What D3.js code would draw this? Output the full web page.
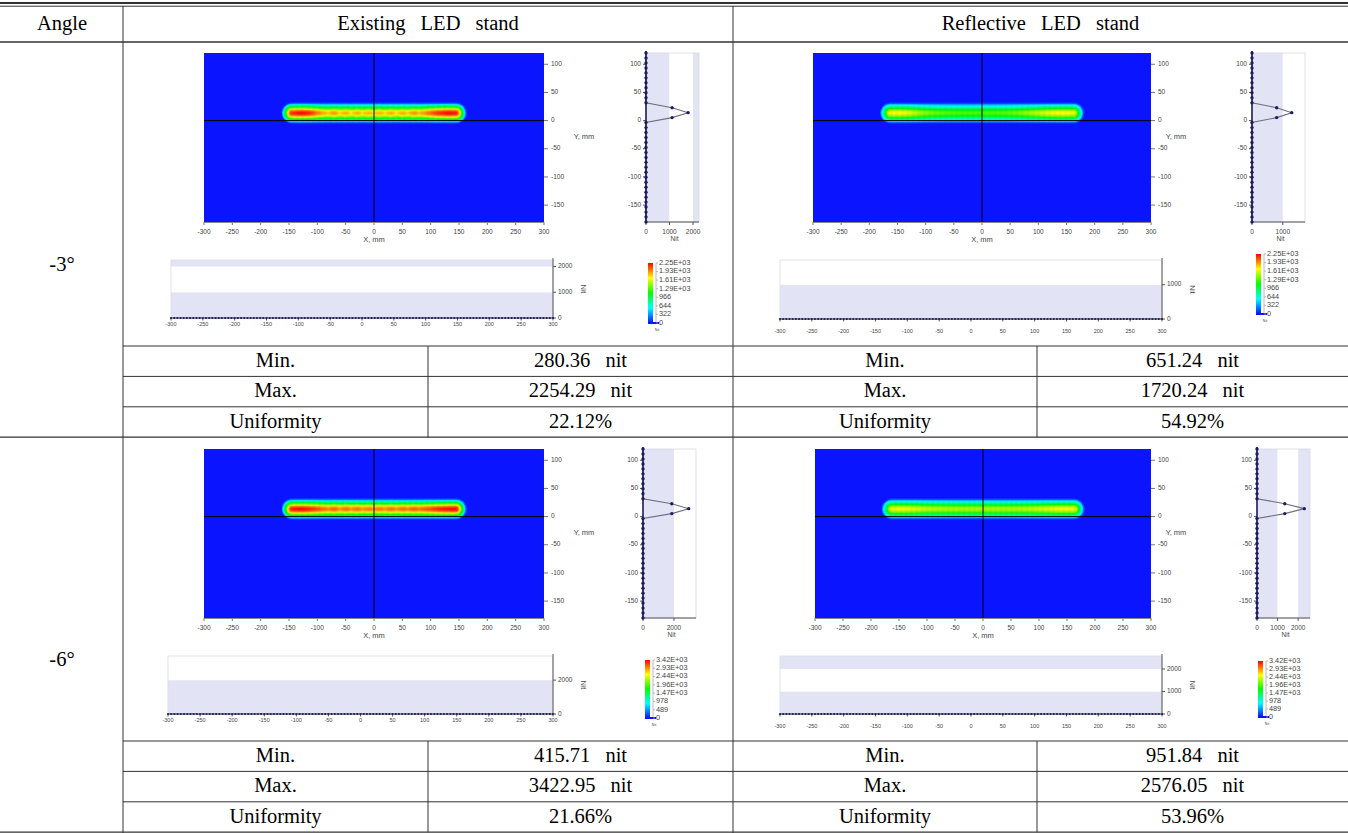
<!DOCTYPE html>
<html><head><meta charset="utf-8">
<script src="https://cdn.jsdelivr.net/npm/d3@7"></script>
<style>
body{margin:0;background:#fff;}
svg{display:block;}
.tt{font-family:"Liberation Serif","Times New Roman",serif;font-size:20.5px;fill:#000;word-spacing:10px;}
.sm{font-family:"Liberation Sans",Arial,sans-serif;fill:#444;}
</style></head><body>
<svg id="c" width="1348" height="833"></svg>
<script>
// ================= DATA =================
const angleLabels = ["-3°", "-6°"];
const standTypes = ["Existing LED stand", "Reflective LED stand"];
const statLabels = ["Min.", "Max.", "Uniformity"];
const statsExisting3 = ["280.36 nit", "2254.29 nit", "22.12%"];
const statsReflective3 = ["651.24 nit", "1720.24 nit", "54.92%"];
const statsExisting6 = ["415.71 nit", "3422.95 nit", "21.66%"];
const statsReflective6 = ["951.84 nit", "2576.05 nit", "53.96%"];

const heatXTicks = [-300, -250, -200, -150, -100, -50, 0, 50, 100, 150, 200, 250, 300];
const heatYTicks = [100, 50, 0, -50, -100, -150];
const colorbarTicks3 = ["0", "322", "644", "966", "1.29E+03", "1.61E+03", "1.93E+03", "2.25E+03"];
const colorbarTicks6 = ["0", "489", "978", "1.47E+03", "1.96E+03", "2.44E+03", "2.93E+03", "3.42E+03"];

// luminance along the strip centre line (nit), x in mm
const stripX = [-170,-160,-150,-140,-130,-120,-110,-100,-90,-80,-70,-60,-50,-40,-30,-20,-10,0,10,20,30,40,50,60,70,80,90,100,110,120,130,140,150,160,170];
const alongExisting3 = [2150,2150,2150,2200,2250,2230,2150,2000,1900,1820,1950,1780,1900,1760,1900,1780,1880,1790,1880,1780,1900,1760,1900,1800,1950,1850,1950,2050,2150,2200,2254,2230,2200,2200,2200];
const alongReflective3 = [1650,1700,1720,1700,1650,1580,1500,1440,1400,1360,1340,1320,1310,1300,1300,1300,1310,1290,1310,1310,1320,1330,1350,1380,1420,1470,1520,1570,1620,1670,1700,1720,1710,1680,1650];
const alongExisting6 = [3300,3300,3300,3380,3423,3380,3300,3200,3100,3000,3150,2950,3100,2950,3100,2950,3050,2950,3050,2950,3100,2950,3100,3000,3150,3050,3150,3200,3300,3350,3400,3423,3380,3300,3300];
const alongReflective6 = [2500,2540,2576,2560,2520,2470,2420,2380,2350,2330,2310,2300,2300,2290,2300,2300,2300,2300,2300,2300,2300,2300,2300,2310,2330,2350,2380,2420,2460,2500,2540,2570,2576,2560,2540];
// relative cross-section of the strip vs distance from its centre line (mm)
const crossD = [0, 3, 6, 9, 12, 15, 16.5, 18];
const crossRel = [1, 0.95, 0.82, 0.62, 0.45, 0.3, 0.15, 0];
const stripCentreY = 14;

// vertical profile at X = 0 (side plots)
const sideY = [-180,-171.2,-162.4,-153.5,-144.7,-135.9,-127.1,-118.2,-109.4,-100.6,-91.8,-82.9,-74.1,-65.3,-56.5,-47.6,-38.8,-30,-21.2,-12.4,-3.5,5.3,14.1,22.9,31.8,40.6,49.4,58.2,67.1,75.9,84.7,93.5,102.4,111.2,120];
const sideExisting3 =   [0,0,0,0,0,0,0,0,0,0,0,0,0,0,0,0,0,0,0,0,0,1110,1790,1110,0,0,0,0,0,0,0,0,0,0,0];
const sideReflective3 = [0,0,0,0,0,0,0,0,0,0,0,0,0,0,0,0,0,0,0,0,0,800,1290,800,0,0,0,0,0,0,0,0,0,0,0];
const sideExisting6 =   [0,0,0,0,0,0,0,0,0,0,0,0,0,0,0,0,0,0,0,0,0,1860,2950,1860,0,0,0,0,0,0,0,0,0,0,0];
const sideReflective6 = [0,0,0,0,0,0,0,0,0,0,0,0,0,0,0,0,0,0,0,0,0,1350,2300,1350,0,0,0,0,0,0,0,0,0,0,0];

// horizontal profile at Y = 0 (bottom plots): all samples lie on 0
const bottomX = d3.range(-300, 301, 5);
const bottomNit = [0,0,0,0,0,0,0,0,0,0,0,0,0,0,0,0,0,0,0,0,0,0,0,0,0,0,0,0,0,0,0,0,0,0,0,0,0,0,0,0,0,0,0,0,0,0,0,0,0,0,0,0,0,0,0,0,0,0,0,0,0,0,0,0,0,0,0,0,0,0,0,0,0,0,0,0,0,0,0,0,0,0,0,0,0,0,0,0,0,0,0,0,0,0,0,0,0,0,0,0,0,0,0,0,0,0,0,0,0,0,0,0,0,0,0,0,0,0,0,0,0];

// ================= LAYOUT =================
const W = 1348, H = 833;
const svg = d3.select("#c");
const jet = ["#0a14ff", "#00ffff", "#00ff00", "#ffff00", "#ff0000"];
const lav = "#e3e3f6";
const dotCol = "#1d1d5e";

const defs = svg.append("defs");
defs.append("filter").attr("id", "blur").attr("x", "-5%").attr("y", "-50%").attr("width", "110%").attr("height", "200%")
  .append("feGaussianBlur").attr("stdDeviation", 0.7);
const grad = defs.append("linearGradient").attr("id", "jetg").attr("x1", 0).attr("y1", 1).attr("x2", 0).attr("y2", 0);
jet.forEach((c, i) => grad.append("stop").attr("offset", i / 4).attr("stop-color", c));

const panels = [
  {hx0:204,hx1:544,hy0:53,hy1:222, ylabX:584, sx:646, bx0:171,bx1:553,btop:260,bzero:318,blab:7,
   cbx:648,cby0:263,cby1:323, max:2254.29, cmax:2254.29, a:145, along:alongExisting3, side:sideExisting3,
   ticks:[0,1000,2000], cb:colorbarTicks3},
  {hx0:813,hx1:1151,hy0:53,hy1:222, ylabX:1176, sx:1252, bx0:780,bx1:1162,btop:260,bzero:319,blab:13,
   cbx:1256,cby0:254,cby1:314, max:1720.24, cmax:2254.29, a:163, along:alongReflective3, side:sideReflective3,
   ticks:[0,1000], cb:colorbarTicks3},
  {hx0:204,hx1:544,hy0:449,hy1:618, ylabX:584, sx:643, bx0:168,bx1:553,btop:656,bzero:714,blab:7,
   cbx:645,cby0:660,cby1:718, max:3422.95, cmax:3422.95, a:145, along:alongExisting6, side:sideExisting6,
   ticks:[0,2000], cb:colorbarTicks6},
  {hx0:815,hx1:1151,hy0:449,hy1:618, ylabX:1176, sx:1257, bx0:780,bx1:1162,btop:656,bzero:714,blab:13,
   cbx:1258,cby0:661,cby1:717, max:2576.05, cmax:3422.95, a:163, along:alongReflective6, side:sideReflective6,
   ticks:[0,1000,2000], cb:colorbarTicks6}
];

function sm(g, x, y, txt, size, anchor) {
  return g.append("text").attr("class", "sm").attr("x", x).attr("y", y)
    .attr("font-size", size).attr("text-anchor", anchor || "middle").attr("dominant-baseline", "middle").text(txt);
}

function bands(g, ticks, max, fn) {
  const edges = ticks.concat([max]);
  for (let i = 0; i < edges.length - 1; i++) {
    if (edges[i + 1] <= edges[i]) continue;
    fn(edges[i], edges[i + 1], i % 2 === 0 ? lav : "#ffffff");
  }
}

function drawPanel(p) {
  const g = svg.append("g");
  const x = d3.scaleLinear().domain([-300, 300]).range([p.hx0, p.hx1]);
  const y = d3.scaleLinear().domain([-180, 120]).range([p.hy1, p.hy0]);
  const color = d3.scaleLinear().domain(jet.map((c, i) => i / 4 * p.cmax)).range(jet).clamp(true);

  // ---- heat map ----
  g.append("rect").attr("x", p.hx0).attr("y", p.hy0).attr("width", p.hx1 - p.hx0).attr("height", p.hy1 - p.hy0)
    .attr("fill", color(0));
  const along = d3.scaleLinear().domain(stripX).range(p.along);
  const cross = d3.scaleLinear().domain(crossD).range(crossRel).clamp(true);
  const cells = [];
  const step = 1.5;
  for (let cx = -200; cx <= 200; cx += step) {
    for (let cy = -10; cy <= 40; cy += step) {
      const mx = cx + step / 2, my = cy + step / 2;
      const xc = Math.max(-p.a, Math.min(p.a, mx));
      const d = Math.hypot(mx - xc, my - stripCentreY);
      const v = along(xc) * cross(d);
      if (v > 0) cells.push({ x: cx, y: cy, v });
    }
  }
  const cw = x(step) - x(0), ch = y(0) - y(step);
  g.append("g").attr("filter", "url(#blur)").selectAll("rect").data(cells).join("rect")
    .attr("x", d => x(d.x)).attr("y", d => y(d.y + step))
    .attr("width", cw + 0.4).attr("height", ch + 0.4)
    .attr("fill", d => color(d.v));
  // crosshair
  g.append("line").attr("x1", x(0)).attr("x2", x(0)).attr("y1", p.hy0).attr("y2", p.hy1).attr("stroke", "#000").attr("stroke-width", 1);
  g.append("line").attr("x1", p.hx0).attr("x2", p.hx1).attr("y1", y(0)).attr("y2", y(0)).attr("stroke", "#000").attr("stroke-width", 1);
  // axes
  heatYTicks.forEach(t => {
    g.append("line").attr("x1", p.hx1).attr("x2", p.hx1 + 4).attr("y1", y(t)).attr("y2", y(t)).attr("stroke", "#777");
    sm(g, p.hx1 + 7, y(t), t, 6.5, "start");
  });
  heatXTicks.forEach(t => {
    g.append("line").attr("x1", x(t)).attr("x2", x(t)).attr("y1", p.hy1).attr("y2", p.hy1 + 3).attr("stroke", "#777");
    sm(g, x(t), p.hy1 + 10, t, 6.5);
  });
  g.append("line").attr("x1", p.hx0).attr("x2", p.hx1).attr("y1", p.hy1 + 0.5).attr("y2", p.hy1 + 0.5).attr("stroke", "#888");
  sm(g, x(0), p.hy1 + 18, "X, mm", 7.5);
  sm(g, p.ylabX, y(0) + 16, "Y, mm", 7.5);

  // ---- side plot (profile along Y at X = 0) ----
  const sw = 53;
  const sx = d3.scaleLinear().domain([0, p.max]).range([p.sx, p.sx + sw]);
  bands(g, p.ticks, p.max, (a, b, c) => g.append("rect").attr("x", sx(a)).attr("y", p.hy0).attr("width", sx(b) - sx(a)).attr("height", p.hy1 - p.hy0).attr("fill", c));
  g.append("rect").attr("x", p.sx).attr("y", p.hy0).attr("width", sw).attr("height", p.hy1 - p.hy0)
    .attr("fill", "none").attr("stroke", "#d8d8e4").attr("stroke-width", 0.8);
  g.append("line").attr("x1", p.sx).attr("x2", p.sx + sw).attr("y1", p.hy1).attr("y2", p.hy1).attr("stroke", "#555").attr("stroke-width", 1);
  p.ticks.forEach(t => {
    g.append("line").attr("x1", sx(t)).attr("x2", sx(t)).attr("y1", p.hy1).attr("y2", p.hy1 + 3).attr("stroke", "#555");
    sm(g, sx(t), p.hy1 + 10, t, 6.5);
  });
  sm(g, sx(p.max / 2) + 2, p.hy1 + 17, "Nit", 6.5);
  heatYTicks.forEach(t => {
    g.append("line").attr("x1", p.sx - 3).attr("x2", p.sx).attr("y1", y(t)).attr("y2", y(t)).attr("stroke", "#555");
    sm(g, p.sx - 5, y(t), t, 6.5, "end");
  });
  const sidePts = sideY.map((yy, i) => ({ y: yy, v: p.side[i] }));
  g.append("path").datum(sidePts).attr("fill", "none").attr("stroke", "#6f6f80").attr("stroke-width", 1.1)
    .attr("d", d3.line().x(d => sx(d.v)).y(d => y(d.y)));
  g.append("line").attr("x1", p.sx).attr("x2", p.sx).attr("y1", p.hy0 - 2).attr("y2", p.hy1).attr("stroke", dotCol).attr("stroke-width", 1.6);
  g.selectAll(null).data(sidePts).join("circle").attr("cx", d => sx(d.v)).attr("cy", d => y(d.y)).attr("r", 1.7).attr("fill", dotCol);

  // ---- bottom plot (profile along X at Y = 0) ----
  const bx = d3.scaleLinear().domain([-300, 300]).range([p.bx0, p.bx1]);
  const by = d3.scaleLinear().domain([0, p.max]).range([p.bzero, p.btop]);
  bands(g, p.ticks, p.max, (a, b, c) => g.append("rect").attr("x", p.bx0).attr("y", by(b)).attr("width", p.bx1 - p.bx0).attr("height", by(a) - by(b)).attr("fill", c));
  g.append("rect").attr("x", p.bx0).attr("y", p.btop).attr("width", p.bx1 - p.bx0).attr("height", p.bzero - p.btop)
    .attr("fill", "none").attr("stroke", "#dcdce6").attr("stroke-width", 0.8);
  g.append("line").attr("x1", p.bx1).attr("x2", p.bx1).attr("y1", p.btop - 2).attr("y2", p.bzero).attr("stroke", "#555").attr("stroke-width", 1);
  p.ticks.forEach(t => {
    g.append("line").attr("x1", p.bx1).attr("x2", p.bx1 + 3).attr("y1", by(t)).attr("y2", by(t)).attr("stroke", "#555");
    sm(g, p.bx1 + 5, by(t), t, 6.5, "start");
  });
  const nitX = p.bx1 + 30;
  const nitY = (p.btop + p.bzero) / 2;
  g.append("text").attr("class", "sm").attr("font-size", 7).attr("text-anchor", "middle").attr("dominant-baseline", "middle")
    .attr("transform", `translate(${nitX},${nitY}) rotate(90)`).text("Nit");
  heatXTicks.forEach(t => {
    g.append("line").attr("x1", bx(t)).attr("x2", bx(t)).attr("y1", p.bzero).attr("y2", p.bzero + 2.5).attr("stroke", "#555");
    sm(g, bx(t), p.bzero + p.blab, t, 5.5);
  });
  g.append("line").attr("x1", p.bx0).attr("x2", p.bx1).attr("y1", p.bzero).attr("y2", p.bzero).attr("stroke", "#333").attr("stroke-width", 1);
  g.selectAll(null).data(bottomX.map((xx, i) => ({ x: xx, v: bottomNit[i] }))).join("circle")
    .attr("cx", d => bx(d.x)).attr("cy", d => by(d.v)).attr("r", 1.1).attr("fill", dotCol);

  // ---- colour bar ----
  const cby = d3.scaleLinear().domain([0, p.cb.length - 1]).range([p.cby1, p.cby0]);
  g.append("rect").attr("x", p.cbx).attr("y", p.cby0).attr("width", 5).attr("height", p.cby1 - p.cby0).attr("fill", "url(#jetg)");
  g.append("line").attr("x1", p.cbx + 8).attr("x2", p.cbx + 8).attr("y1", p.cby0).attr("y2", p.cby1).attr("stroke", "#aaa").attr("stroke-width", 0.8);
  g.append("line").attr("x1", p.cbx).attr("x2", p.cbx + 11).attr("y1", p.cby1).attr("y2", p.cby1).attr("stroke", "#0a14ff").attr("stroke-width", 2);
  p.cb.forEach((lab, i) => {
    g.append("line").attr("x1", p.cbx + 8).attr("x2", p.cbx + 10).attr("y1", cby(i)).attr("y2", cby(i)).attr("stroke", "#aaa").attr("stroke-width", 0.8);
    sm(g, p.cbx + 11, cby(i), lab, 7.3, "start");
  });
  sm(g, p.cbx + 9, p.cby1 + 7, "Nit", 3.5);
}

panels.forEach(drawPanel);

// ================= TABLE =================
const lineCol = "#333";
const tg = svg.append("g");
function hline(x1, x2, yy, w) {
  tg.append("line").attr("x1", x1).attr("x2", x2).attr("y1", yy).attr("y2", yy).attr("stroke", lineCol).attr("stroke-width", w || 1);
}
function vline(xx, y1, y2, w) {
  tg.append("line").attr("x1", xx).attr("x2", xx).attr("y1", y1).attr("y2", y2).attr("stroke", lineCol).attr("stroke-width", w || 1);
}
const colAngle = 123, colMid = 733, subCols = [428, 1037];
const headerTop = 6, headerBottom = 42;
const sectionTops = [42, 437];
const imageH = 304, statH = 30.4;

hline(0, W, 3, 2.2);
hline(0, W, 6.2, 1);
hline(0, W, headerBottom, 1.4);
vline(colAngle, headerTop, H);
vline(colMid, headerTop, H);

const tx = (x, y, s) => tg.append("text").attr("class", "tt").attr("x", x).attr("y", y).attr("text-anchor", "middle").attr("dominant-baseline", "middle").text(s);
tx(62, 25, "Angle");
tx((colAngle + colMid) / 2, 25, standTypes[0]);
tx((colMid + W) / 2, 25, standTypes[1]);

const statSets = [[statsExisting3, statsReflective3], [statsExisting6, statsReflective6]];
sectionTops.forEach((top, si) => {
  const st = top + imageH;
  tx(62, top + 224, angleLabels[si]);
  for (let r = 0; r < 3; r++) {
    const y0 = st + r * statH;
    hline(colAngle, W, y0, 1);
    const cy = y0 + statH / 2 + 1;
    tx((colAngle + subCols[0]) / 2, cy, statLabels[r]);
    tx((subCols[0] + colMid) / 2, cy, statSets[si][0][r]);
    tx((colMid + subCols[1]) / 2, cy, statLabels[r]);
    tx((subCols[1] + W) / 2, cy, statSets[si][1][r]);
  }
  vline(subCols[0], st, st + 3 * statH);
  vline(subCols[1], st, st + 3 * statH);
  hline(0, W, st + 3 * statH, 1.2);
});
</script>
</body></html>
